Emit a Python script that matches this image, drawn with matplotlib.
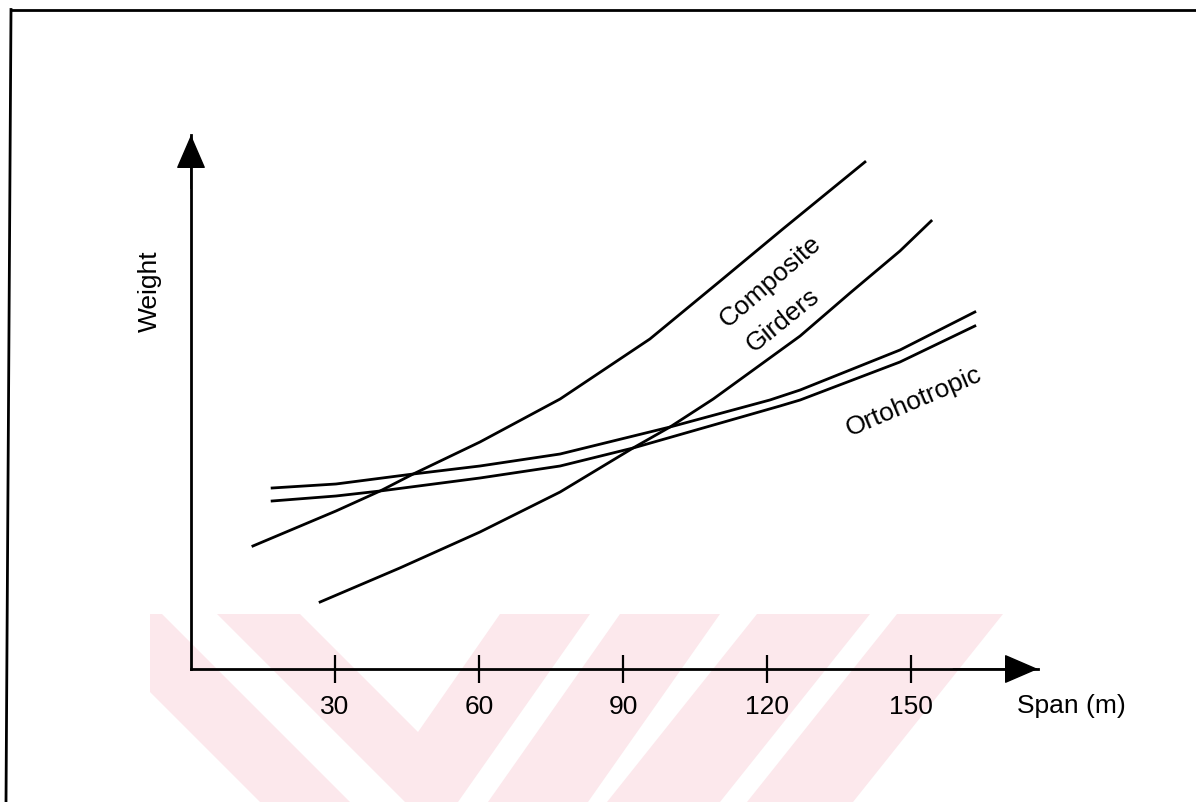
import matplotlib
matplotlib.use("Agg")
import matplotlib.pyplot as plt
from matplotlib.patches import Polygon
from matplotlib.lines import Line2D

plt.rcParams['font.family'] = ['Liberation Sans', 'DejaVu Sans']

# values (span in m, weight in arbitrary units)
span_comp_upper = [12.9, 30.2, 39.4, 46.3, 60.2, 76.9, 95.6, 110.0, 123.3, 140.4]
weight_comp_upper = [1.23, 1.58, 1.78, 1.95, 2.27, 2.70, 3.30, 3.87, 4.40, 5.07]

span_comp_lower = [26.9, 43.5, 60.2, 76.9, 92.1, 99.8, 108.8, 126.9, 137.3, 147.7, 154.2]
weight_comp_lower = [0.67, 1.01, 1.37, 1.77, 2.21, 2.42, 2.70, 3.33, 3.76, 4.18, 4.48]

span_orto_upper = [16.9, 30.2, 46.3, 60.2, 76.9, 99.8, 120.6, 126.9, 147.7, 163.3]
weight_orto_upper = [1.81, 1.85, 1.95, 2.03, 2.15, 2.42, 2.69, 2.79, 3.19, 3.57]

span_orto_lower = [16.9, 30.2, 39.4, 60.2, 76.9, 92.1, 122.7, 126.9, 147.7, 163.3]
weight_orto_lower = [1.68, 1.73, 1.78, 1.91, 2.03, 2.21, 2.63, 2.69, 3.07, 3.43]

xticks = [30, 60, 90, 120, 150]
xtick_labels = ['30', '60', '90', '120', '150']

W, H = 1196, 803
fig = plt.figure(figsize=(W / 100, H / 100), dpi=100)


def fpx(x, y):
    # pixel position -> figure fraction
    return (x / W, 1 - y / H)


# faint pink watermark of the scanned page
wm = [
    [(150, 615), (162, 615), (350, 803), (260, 803), (150, 693)],
    [(217, 615), (300, 615), (418, 733), (500, 615), (590, 615), (458, 803), (405, 803)],
    [(620, 615), (720, 615), (588, 803), (488, 803)],
    [(757, 615), (870, 615), (720, 803), (607, 803)],
    [(897, 615), (1003, 615), (853, 803), (747, 803)],
]
for poly in wm:
    fig.add_artist(Polygon([fpx(*p) for p in poly], closed=True, transform=fig.transFigure,
                           fc='#fce8ec', ec='none', zorder=-5))

# page frame (top and left edges only)
fig.add_artist(Line2D([11 / W, 1], [1 - 10.5 / H, 1 - 10.5 / H], transform=fig.transFigure,
                      color='black', lw=2))
fig.add_artist(Line2D([11 / W, 6 / W], [1 - 10.5 / H, 0], transform=fig.transFigure,
                      color='black', lw=2))

ax = fig.add_axes([191 / W, 1 - 670 / H, (1038 - 191) / W, (670 - 136) / H])
ax.patch.set_visible(False)
ax.set_xlim(0, (1038 - 191) / 4.8)
ax.set_ylim(0, (670 - 136) / 100)

for s in ['top', 'right']:
    ax.spines[s].set_visible(False)
for s in ['left', 'bottom']:
    ax.spines[s].set_linewidth(2)

# arrow heads on both axes
arrow = dict(arrowstyle='-|>,head_length=22,head_width=9.5', mutation_scale=1,
             fc='black', ec='black', lw=1, shrinkA=0, shrinkB=0)
ax.annotate('', xy=(1, 0), xycoords='axes fraction', xytext=(0.9, 0), arrowprops=arrow,
            annotation_clip=False)
ax.annotate('', xy=(0, 1), xycoords='axes fraction', xytext=(0, 0.9), arrowprops=arrow,
            annotation_clip=False)

ax.set_xticks(xticks)
ax.set_xticklabels(xtick_labels)
ax.set_yticks([])
ax.tick_params(axis='x', direction='inout', length=20, width=1.6, pad=8, labelsize=19)

lw = 2.0
ax.plot(span_comp_upper, weight_comp_upper, color='black', lw=lw)
ax.plot(span_comp_lower, weight_comp_lower, color='black', lw=lw)
ax.plot(span_orto_upper, weight_orto_upper, color='black', lw=lw)
ax.plot(span_orto_lower, weight_orto_lower, color='black', lw=lw)

ax.text(120.6, 3.88, 'Composite', rotation=41, ha='center', va='center', fontsize=19,
        rotation_mode='anchor')
ax.text(123.3, 3.50, 'Girders', rotation=39, ha='center', va='center', fontsize=19,
        rotation_mode='anchor')
ax.text(150.6, 2.68, 'Ortohotropic', rotation=23, ha='center', va='center', fontsize=19,
        rotation_mode='anchor')

ax.text(-8.5, 3.79, 'Weight', rotation=90, ha='center', va='center', fontsize=19, clip_on=False)
ax.text(183.5, -0.36, 'Span (m)', ha='center', va='center', fontsize=19, clip_on=False)

fig.savefig('out.png', dpi=100)
